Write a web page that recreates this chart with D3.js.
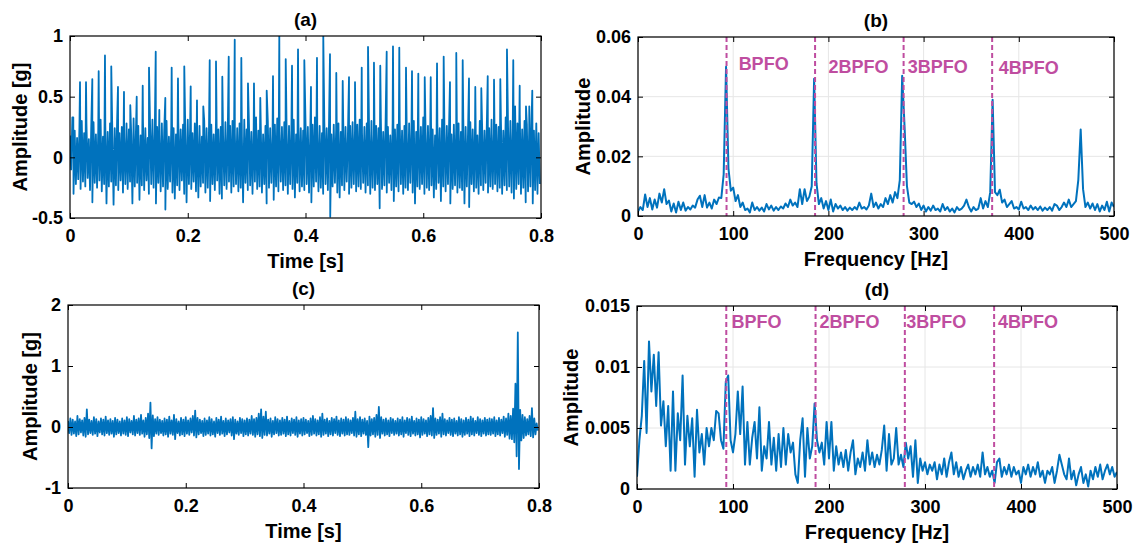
<!DOCTYPE html>
<html>
<head>
<meta charset="utf-8">
<script src="https://cdn.jsdelivr.net/npm/d3@7/dist/d3.min.js"></script>
<style>
  body { margin: 0; background: #fff; }
  svg text { font-family: "Liberation Sans", Arial, sans-serif; font-weight: bold; fill: #000; }
</style>
</head>
<body>
<div id="chart"></div>
<script>
// --- data ---
// (a) healthy-looking fault signal: band extremes per 4 ms column + impulse peaks
const bandStepA = 0.004;
const hiA = [.18,.33,.22,.16,.25,.30,.20,.27,.15,.24,.29,.19,.23,.31,.17,.26,.21,.28,.18,.24,
  .30,.20,.25,.17,.28,.23,.19,.32,.22,.26,.18,.29,.24,.16,.27,.31,.21,.25,.19,.28,
  .22,.30,.17,.26,.24,.19,.29,.23,.27,.18,.31,.25,.20,.28,.22,.26,.17,.30,.24,.21,
  .27,.19,.32,.23,.25,.18,.29,.22,.26,.30,.20,.24,.28,.17,.31,.23,.27,.21,.25,.33,
  .22,.28,.19,.26,.30,.24,.18,.27,.32,.21,.25,.29,.20,.26,.23,.31,.19,.28,.24,.22,
  .30,.25,.18,.27,.33,.22,.26,.20,.29,.24,.31,.19,.27,.23,.28,.21,.32,.25,.18,.26,
  .29,.22,.27,.31,.20,.25,.28,.23,.30,.19,.26,.24,.32,.21,.28,.25,.18,.29,.23,.27,
  .31,.22,.26,.19,.28,.24,.30,.21,.27,.25,.33,.20,.26,.29,.23,.18,.28,.24,.31,.22,
  .26,.30,.19,.27,.24,.28,.21,.32,.25,.20,.29,.23,.27,.18,.30,.26,.22,.28,.24,.31,
  .20,.27,.25,.29,.22,.33,.26,.30,.24,.42,.28,.35,.23,.30,.27,.25,.32,.22,.28,.20];
const loA = [-.10,-.30,-.22,-.18,-.26,-.20,-.24,-.17,-.27,-.37,-.21,-.25,-.19,-.28,-.22,-.38,-.24,-.20,-.39,-.23,
  -.27,-.19,-.29,-.22,-.26,-.20,-.38,-.24,-.21,-.35,-.23,-.27,-.19,-.30,-.22,-.25,-.38,-.21,-.28,-.24,
  -.43,-.26,-.20,-.29,-.34,-.23,-.27,-.19,-.30,-.37,-.22,-.26,-.20,-.28,-.33,-.24,-.21,-.29,-.25,-.36,
  -.22,-.27,-.19,-.30,-.34,-.23,-.26,-.20,-.29,-.24,-.22,-.28,-.25,-.37,-.21,-.27,-.23,-.30,-.20,-.26,
  -.24,-.29,-.22,-.38,-.25,-.21,-.35,-.24,-.28,-.20,-.27,-.23,-.30,-.22,-.26,-.33,-.21,-.28,-.24,-.27,
  -.22,-.29,-.37,-.24,-.20,-.28,-.25,-.30,-.22,-.27,-.49,-.24,-.21,-.29,-.33,-.23,-.27,-.20,-.30,-.25,
  -.22,-.28,-.24,-.26,-.21,-.29,-.23,-.30,-.25,-.27,-.22,-.42,-.26,-.23,-.29,-.21,-.27,-.36,-.24,-.28,
  -.22,-.30,-.25,-.27,-.21,-.29,-.38,-.24,-.26,-.22,-.30,-.25,-.27,-.23,-.33,-.26,-.21,-.36,-.24,-.28,
  -.22,-.38,-.26,-.23,-.29,-.25,-.27,-.38,-.24,-.41,-.22,-.28,-.25,-.30,-.23,-.27,-.21,-.29,-.24,-.26,
  -.22,-.28,-.25,-.30,-.23,-.27,-.24,-.29,-.34,-.26,-.22,-.30,-.25,-.37,-.28,-.24,-.38,-.27,-.30,-.22];
const spikeTimeA = [0.0056,0.0170,0.0272,0.0379,0.0487,0.0594,0.0701,0.0815,0.0917,0.1024,0.1133,0.1235,0.1342,0.1456,0.1517,
  0.1619,0.1727,0.1834,0.1941,0.2050,0.2157,0.2264,0.2373,0.2480,0.2587,0.2696,0.2798,0.2910,0.3023,0.3125,
  0.3232,0.3341,0.3448,0.3555,0.3664,0.3771,0.3873,0.3980,0.4093,0.4195,0.4302,0.4416,0.4523,0.4632,0.4739,
  0.4841,0.4955,0.5062,0.5163,0.5270,0.5379,0.5486,0.5593,0.5707,0.5809,0.5916,0.6025,0.6127,0.6234,0.6347,
  0.6454,0.6561,0.6670,0.6777,0.6884,0.6986,0.7095,0.7202,0.7309,0.7422,0.7529,0.7638,0.7745,0.7801,0.7852];
const spikePeakA = [0.33,0.62,0.62,0.645,0.71,0.84,0.75,0.58,0.54,0.43,0.50,0.59,0.74,0.87,0.39,
  0.49,0.74,0.65,0.75,0.585,0.47,0.42,0.80,0.79,0.665,0.83,0.97,0.82,0.61,0.61,
  0.49,0.55,0.67,1.0,0.81,0.755,0.89,0.80,0.58,0.82,1.0,0.85,0.695,0.63,0.66,
  0.62,0.74,0.91,0.78,0.755,0.87,0.915,0.905,0.74,0.71,0.69,0.66,0.66,0.775,0.83,
  0.62,0.86,0.80,0.65,0.58,0.57,0.67,0.64,0.645,0.89,0.80,0.59,0.42,0.42,0.55];

// (c) second signal: band extremes per 4 ms column
const bandStepC = 0.004;
const hiC = [.10,.14,.12,.09,.18,.13,.11,.15,.29,.12,.10,.16,.13,.09,.14,.12,.17,.11,.13,.10,
  .15,.12,.09,.14,.11,.16,.13,.10,.18,.12,.14,.20,.11,.15,.22,.40,.19,.13,.16,.12,
  .10,.14,.12,.17,.11,.20,.13,.09,.15,.12,.16,.11,.14,.18,.27,.15,.12,.10,.14,.11,
  .16,.13,.09,.15,.12,.17,.10,.14,.11,.13,.16,.12,.09,.15,.13,.11,.14,.12,.18,.13,
  .15,.22,.29,.17,.25,.12,.14,.10,.16,.13,.11,.15,.12,.17,.10,.14,.12,.16,.11,.13,
  .15,.12,.10,.14,.18,.13,.11,.16,.22,.12,.14,.10,.15,.13,.17,.11,.14,.12,.16,.13,
  .11,.15,.25,.13,.16,.12,.14,.10,.17,.13,.15,.20,.33,.16,.12,.14,.11,.15,.13,.10,
  .14,.12,.16,.11,.15,.13,.17,.10,.14,.12,.16,.13,.11,.15,.18,.31,.14,.12,.16,.22,
  .13,.11,.15,.12,.14,.10,.16,.13,.11,.15,.12,.17,.14,.10,.16,.13,.11,.15,.12,.14,
  .13,.16,.11,.15,.12,.17,.14,.22,.18,.30,.71,1.55,.28,.20,.16,.13,.18,.31,.14,.06];
const loC = [-.10,-.13,-.11,-.15,-.12,-.09,-.14,-.16,-.12,-.10,-.13,-.11,-.15,-.09,-.12,-.14,-.10,-.13,-.11,-.16,
  -.12,-.10,-.14,-.11,-.13,-.15,-.09,-.12,-.14,-.10,-.13,-.11,-.16,-.12,-.18,-.35,-.15,-.11,-.13,-.10,
  -.14,-.12,-.16,-.11,-.13,-.20,-.10,-.14,-.12,-.15,-.11,-.13,-.09,-.14,-.17,-.12,-.10,-.15,-.13,-.11,
  -.14,-.12,-.16,-.10,-.13,-.11,-.15,-.12,-.09,-.14,-.20,-.11,-.13,-.10,-.15,-.12,-.14,-.11,-.13,-.16,
  -.12,-.15,-.18,-.13,-.14,-.11,-.16,-.12,-.10,-.14,-.13,-.11,-.15,-.12,-.14,-.10,-.13,-.16,-.11,-.14,
  -.12,-.10,-.15,-.13,-.11,-.14,-.12,-.16,-.13,-.11,-.15,-.12,-.14,-.10,-.13,-.15,-.11,-.14,-.12,-.13,
  -.10,-.14,-.16,-.12,-.15,-.11,-.13,-.33,-.14,-.12,-.16,-.13,-.18,-.11,-.14,-.12,-.15,-.10,-.13,-.11,
  -.14,-.12,-.16,-.10,-.13,-.15,-.11,-.14,-.12,-.17,-.13,-.11,-.15,-.12,-.14,-.18,-.13,-.11,-.16,-.12,
  -.14,-.10,-.13,-.15,-.11,-.14,-.12,-.16,-.13,-.11,-.15,-.12,-.14,-.10,-.13,-.15,-.11,-.14,-.12,-.13,
  -.11,-.15,-.12,-.14,-.10,-.16,-.13,-.19,-.20,-.25,-.48,-.69,-.22,-.18,-.14,-.12,-.15,-.17,-.12,-.06];

// (b), (d) envelope spectra, 2.5 Hz bins from 0 to 500 Hz
const freqStep = 2.5;
const specB = [0.0015,0.0030,0.0020,0.0072,0.0030,0.0060,0.0022,0.0055,0.0028,0.0075,
  0.0045,0.0090,0.0040,0.0052,0.0015,0.0042,0.0012,0.0048,0.0020,0.0045,
  0.0018,0.0030,0.0022,0.0035,0.0028,0.0055,0.0068,0.0030,0.0070,0.0028,
  0.0045,0.0025,0.0055,0.0040,0.0062,0.0060,0.0140,0.0500,0.0160,0.0085,
  0.0095,0.0050,0.0070,0.0030,0.0045,0.0020,0.0025,0.0012,0.0045,0.0020,
  0.0030,0.0018,0.0028,0.0015,0.0040,0.0022,0.0035,0.0018,0.0030,0.0020,
  0.0032,0.0025,0.0042,0.0030,0.0055,0.0035,0.0045,0.0030,0.0090,0.0040,
  0.0090,0.0050,0.0065,0.0100,0.0460,0.0110,0.0040,0.0060,0.0025,0.0050,
  0.0020,0.0055,0.0015,0.0040,0.0025,0.0035,0.0020,0.0030,0.0018,0.0028,
  0.0020,0.0030,0.0022,0.0045,0.0025,0.0030,0.0022,0.0035,0.0075,0.0030,
  0.0045,0.0025,0.0040,0.0030,0.0060,0.0040,0.0070,0.0045,0.0080,0.0060,
  0.0120,0.0470,0.0300,0.0100,0.0045,0.0040,0.0048,0.0030,0.0042,0.0020,
  0.0035,0.0015,0.0030,0.0018,0.0035,0.0020,0.0025,0.0015,0.0040,0.0020,
  0.0030,0.0015,0.0025,0.0012,0.0030,0.0020,0.0025,0.0035,0.0055,0.0030,
  0.0015,0.0030,0.0020,0.0025,0.0060,0.0025,0.0050,0.0030,0.0080,0.0390,
  0.0080,0.0070,0.0088,0.0045,0.0055,0.0030,0.0040,0.0050,0.0025,0.0030,
  0.0022,0.0048,0.0025,0.0030,0.0020,0.0035,0.0022,0.0030,0.0020,0.0032,
  0.0018,0.0028,0.0020,0.0030,0.0018,0.0040,0.0035,0.0020,0.0030,0.0045,
  0.0030,0.0055,0.0030,0.0040,0.0050,0.0120,0.0290,0.0090,0.0030,0.0045,
  0.0025,0.0042,0.0020,0.0040,0.0015,0.0035,0.0020,0.0048,0.0015,0.0045,
  0.0030];
const specD = [0.0010,0.0040,0.0060,0.0105,0.0046,0.0121,0.0080,0.0110,0.0068,0.0112,
  0.0052,0.0072,0.0035,0.0068,0.0015,0.0080,0.0015,0.0062,0.0040,0.0093,
  0.0020,0.0060,0.0035,0.0058,0.0010,0.0065,0.0030,0.0045,0.0020,0.0050,
  0.0035,0.0050,0.0040,0.0064,0.0062,0.0040,0.0033,0.0088,0.0093,0.0040,
  0.0030,0.0045,0.0080,0.0045,0.0084,0.0020,0.0055,0.0020,0.0042,0.0055,
  0.0025,0.0067,0.0015,0.0035,0.0025,0.0055,0.0020,0.0042,0.0015,0.0045,
  0.0018,0.0050,0.0020,0.0045,0.0030,0.0038,0.0012,0.0005,0.0040,0.0058,
  0.0010,0.0050,0.0025,0.0035,0.0070,0.0040,0.0030,0.0038,0.0020,0.0055,
  0.0025,0.0055,0.0015,0.0035,0.0020,0.0030,0.0018,0.0032,0.0015,0.0030,
  0.0040,0.0012,0.0025,0.0018,0.0030,0.0015,0.0040,0.0020,0.0030,0.0018,
  0.0028,0.0020,0.0032,0.0052,0.0015,0.0045,0.0020,0.0025,0.0050,0.0020,
  0.0028,0.0018,0.0038,0.0025,0.0035,0.0010,0.0040,0.0005,0.0025,0.0015,
  0.0022,0.0012,0.0020,0.0015,0.0022,0.0008,0.0020,0.0012,0.0025,0.0010,
  0.0022,0.0030,0.0012,0.0022,0.0010,0.0018,0.0008,0.0015,0.0020,0.0010,
  0.0018,0.0012,0.0020,0.0010,0.0030,0.0012,0.0018,0.0010,0.0015,0.0005,
  0.0022,0.0025,0.0010,0.0018,0.0012,0.0020,0.0010,0.0018,0.0012,0.0015,
  0.0005,0.0018,0.0012,0.0020,0.0010,0.0018,0.0012,0.0022,0.0010,0.0015,
  0.0005,0.0015,0.0012,0.0018,0.0005,0.0015,0.0028,0.0020,0.0012,0.0008,
  0.0025,0.0008,0.0015,0.0003,0.0012,0.0018,0.0005,0.0012,0.0002,0.0015,
  0.0008,0.0018,0.0010,0.0020,0.0008,0.0015,0.0020,0.0012,0.0018,0.0010,
  0.0014];

// fault frequency markers and their labels
const bpfoFreqs = [93, 186, 279, 372];
const bpfoNames = ["BPFO", "2BPFO", "3BPFO", "4BPFO"];
const labelFreqB = [105.7, 200, 283.3, 379];
const labelAmpB = [0.0489, 0.048, 0.048, 0.0476];
const labelFreqD = [98.4, 190, 280.5, 376];
const labelAmpD = [0.0132, 0.0132, 0.0132, 0.0132];

// ticks
const timeTicks = [0, 0.2, 0.4, 0.6, 0.8];
const timeTickLabels = ["0", "0.2", "0.4", "0.6", "0.8"];
const freqTicks = [0, 100, 200, 300, 400, 500];
const freqTickLabels = ["0", "100", "200", "300", "400", "500"];
const ampTicksA = [-0.5, 0, 0.5, 1];
const ampTickLabelsA = ["-0.5", "0", "0.5", "1"];
const ampTicksB = [0, 0.02, 0.04, 0.06];
const ampTickLabelsB = ["0", "0.02", "0.04", "0.06"];
const ampTicksC = [-1, 0, 1, 2];
const ampTickLabelsC = ["-1", "0", "1", "2"];
const ampTicksD = [0, 0.005, 0.01, 0.015];
const ampTickLabelsD = ["0", "0.005", "0.01", "0.015"];

// --- svg ---
const W = 1137, H = 544;
const blue = "#0072BD";
const mag = "rgb(191,77,160)";

const svg = d3.select("#chart").append("svg")
  .attr("width", W).attr("height", H)
  .style("background", "#fff");

// zig-zag through band extremes, then merge in impulses, sorted by time
function bandPoints(hi, lo, step, spikeT, spikeV) {
  const pts = [];
  hi.forEach((v, i) => {
    pts.push([i * step, v]);
    pts.push([i * step + step / 2, lo[i]]);
  });
  if (spikeT) spikeT.forEach((t, j) => pts.push([t, spikeV[j]]));
  return pts.sort((a, b) => a[0] - b[0]);
}

function drawPanel(o) {
  const g = svg.append("g");
  const x = d3.scaleLinear().domain(o.xDomain).range([o.left, o.right]);
  const y = d3.scaleLinear().domain(o.yDomain).range([o.bottom, o.top]);

  svg.append("clipPath").attr("id", "clip-" + o.id)
    .append("rect")
    .attr("x", o.left).attr("y", o.top)
    .attr("width", o.right - o.left).attr("height", o.bottom - o.top);

  if (o.grid) {
    g.selectAll(".gx").data(o.xTicks).enter().append("line")
      .attr("x1", d => x(d)).attr("x2", d => x(d))
      .attr("y1", o.top).attr("y2", o.bottom)
      .attr("stroke", "#e6e6e6").attr("stroke-width", 1);
    g.selectAll(".gy").data(o.yTicks).enter().append("line")
      .attr("x1", o.left).attr("x2", o.right)
      .attr("y1", d => y(d)).attr("y2", d => y(d))
      .attr("stroke", "#e6e6e6").attr("stroke-width", 1);
  }

  g.append("path")
    .datum(o.points)
    .attr("clip-path", "url(#clip-" + o.id + ")")
    .attr("fill", "none")
    .attr("stroke", blue)
    .attr("stroke-width", o.lineWidth)
    .attr("stroke-linejoin", "round")
    .attr("d", d3.line().x(d => x(d[0])).y(d => y(d[1])));

  if (o.markers) {
    g.selectAll(".mk").data(o.markers).enter().append("line")
      .attr("x1", d => x(d)).attr("x2", d => x(d))
      .attr("y1", o.top).attr("y2", o.bottom)
      .attr("stroke", mag).attr("stroke-width", 2)
      .attr("stroke-dasharray", "5,3");
    g.selectAll(".mt").data(o.markerNames).enter().append("text")
      .attr("x", (d, i) => x(o.labelX[i]))
      .attr("y", (d, i) => y(o.labelY[i]))
      .style("fill", mag)
      .style("font-size", "18px")
      .text(d => d);
  }

  // axes with inward ticks on all four sides
  const xAxis = d3.axisBottom(x).tickValues(o.xTicks)
    .tickFormat((d, i) => o.xLabels[i]).tickSizeInner(-5).tickSizeOuter(0).tickPadding(11);
  const yAxis = d3.axisLeft(y).tickValues(o.yTicks)
    .tickFormat((d, i) => o.yLabels[i]).tickSizeInner(-5).tickSizeOuter(0).tickPadding(7);
  const xTop = d3.axisTop(x).tickValues(o.xTicks).tickFormat("").tickSizeInner(-5).tickSizeOuter(0);
  const yRight = d3.axisRight(y).tickValues(o.yTicks).tickFormat("").tickSizeInner(-5).tickSizeOuter(0);

  const axes = [
    g.append("g").attr("transform", `translate(0,${o.bottom})`).call(xAxis),
    g.append("g").attr("transform", `translate(${o.left},0)`).call(yAxis),
    g.append("g").attr("transform", `translate(0,${o.top})`).call(xTop),
    g.append("g").attr("transform", `translate(${o.right},0)`).call(yRight)
  ];
  axes.forEach(a => {
    a.select(".domain").remove();
    a.selectAll(".tick line").attr("stroke", "#000");
    a.selectAll(".tick text").style("font-size", "18px").style("font-family", null);
  });

  g.append("rect")
    .attr("x", o.left).attr("y", o.top)
    .attr("width", o.right - o.left).attr("height", o.bottom - o.top)
    .attr("fill", "none").attr("stroke", "#000").attr("stroke-width", 1.2);

  g.append("text")
    .attr("x", (o.left + o.right) / 2).attr("y", o.top - 10)
    .attr("text-anchor", "middle").style("font-size", "19px")
    .text(o.title);
  g.append("text")
    .attr("x", (o.left + o.right) / 2).attr("y", o.bottom + 50)
    .attr("text-anchor", "middle").style("font-size", "20px")
    .text(o.xTitle);
  g.append("text")
    .attr("transform", `translate(${o.yTitleX},${(o.top + o.bottom) / 2}) rotate(-90)`)
    .attr("text-anchor", "middle").style("font-size", "20px")
    .text(o.yTitle);
}

const freqs = d3.range(specB.length).map(i => i * freqStep);

drawPanel({
  id: "a", left: 70, right: 541, top: 36, bottom: 218,
  xDomain: [0, 0.8], yDomain: [-0.5, 1],
  xTicks: timeTicks, xLabels: timeTickLabels,
  yTicks: ampTicksA, yLabels: ampTickLabelsA,
  points: bandPoints(hiA, loA, bandStepA, spikeTimeA, spikePeakA),
  lineWidth: 1.8,
  title: "(a)", xTitle: "Time [s]", yTitle: "Amplitude [g]", yTitleX: 27
});

drawPanel({
  id: "b", left: 638, right: 1114, top: 37, bottom: 216,
  xDomain: [0, 500], yDomain: [0, 0.06], grid: true,
  xTicks: freqTicks, xLabels: freqTickLabels,
  yTicks: ampTicksB, yLabels: ampTickLabelsB,
  points: specB.map((v, i) => [freqs[i], v]),
  lineWidth: 2,
  markers: bpfoFreqs, markerNames: bpfoNames, labelX: labelFreqB, labelY: labelAmpB,
  title: "(b)", xTitle: "Frequency [Hz]", yTitle: "Amplitude", yTitleX: 590
});

drawPanel({
  id: "c", left: 68, right: 539, top: 305, bottom: 488,
  xDomain: [0, 0.8], yDomain: [-1, 2],
  xTicks: timeTicks, xLabels: timeTickLabels,
  yTicks: ampTicksC, yLabels: ampTickLabelsC,
  points: bandPoints(hiC, loC, bandStepC),
  lineWidth: 1.8,
  title: "(c)", xTitle: "Time [s]", yTitle: "Amplitude [g]", yTitleX: 37
});

drawPanel({
  id: "d", left: 637, right: 1117, top: 306, bottom: 489,
  xDomain: [0, 500], yDomain: [0, 0.015], grid: true,
  xTicks: freqTicks, xLabels: freqTickLabels,
  yTicks: ampTicksD, yLabels: ampTickLabelsD,
  points: specD.map((v, i) => [freqs[i], v]),
  lineWidth: 2,
  markers: bpfoFreqs, markerNames: bpfoNames, labelX: labelFreqD, labelY: labelAmpD,
  title: "(d)", xTitle: "Frequency [Hz]", yTitle: "Amplitude", yTitleX: 578
});
</script>
</body>
</html>
